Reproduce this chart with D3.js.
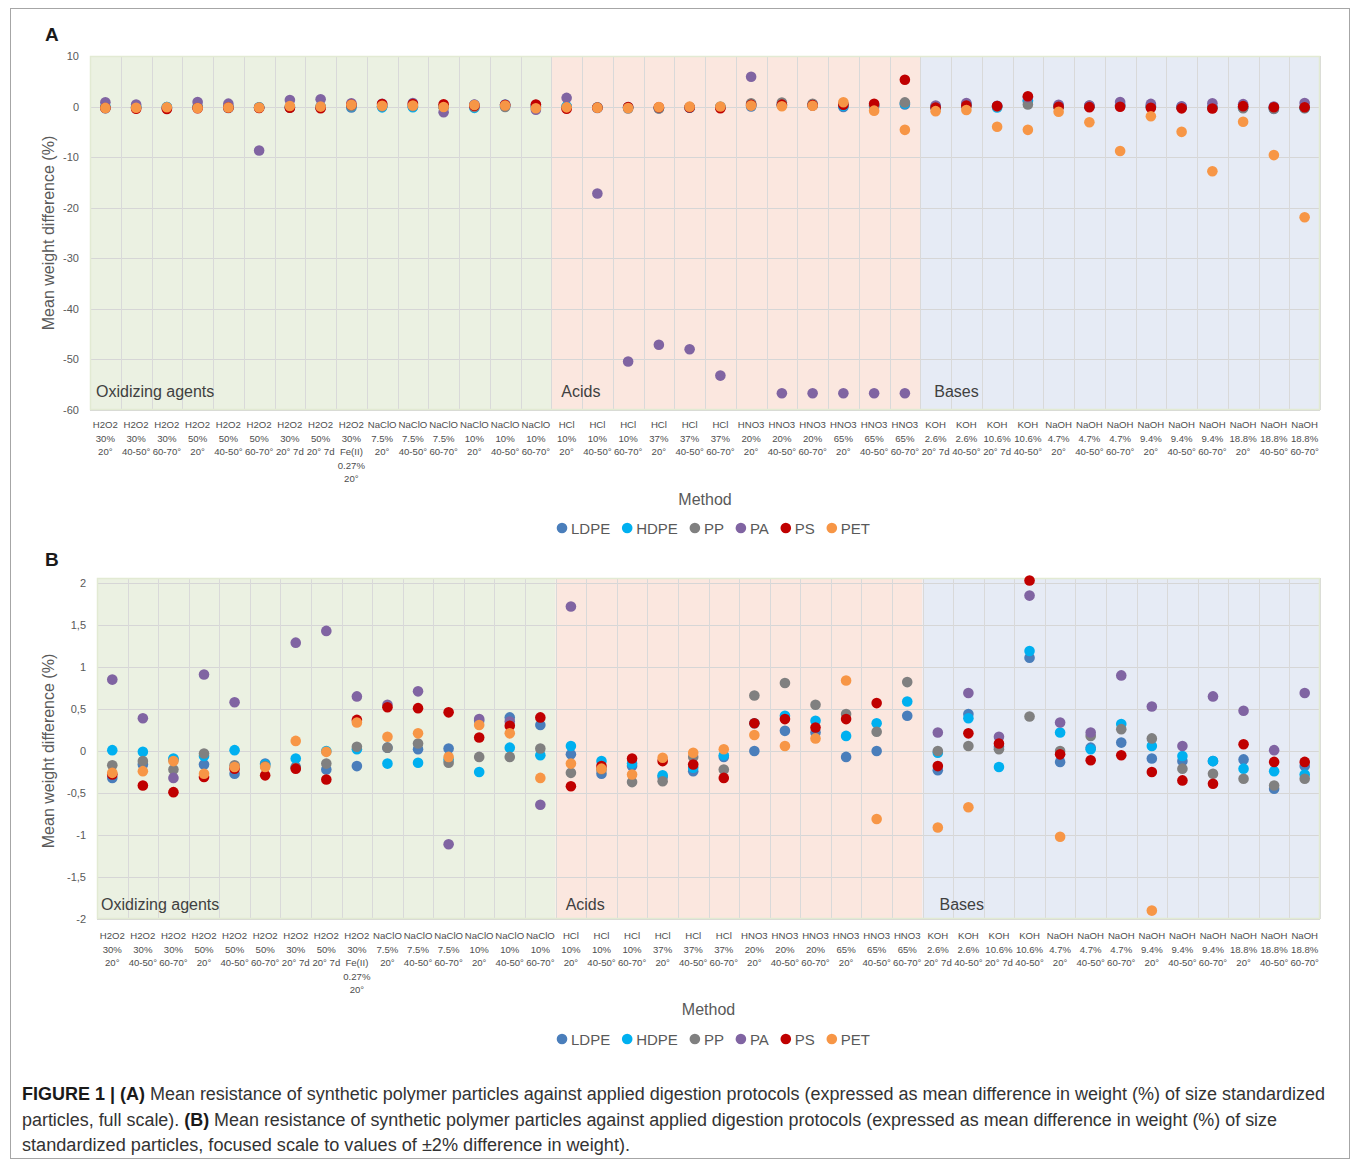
<!DOCTYPE html>
<html><head><meta charset="utf-8">
<script src="https://cdn.jsdelivr.net/npm/d3@7"></script>
<style>body{margin:0;background:#fff}svg{display:block}</style>
</head><body><svg id="c" width="1358" height="1161"></svg>
<script>
// ---------- data ----------
const categories = [
 ["H2O2","30%","20°"],["H2O2","30%","40-50°"],["H2O2","30%","60-70°"],
 ["H2O2","50%","20°"],["H2O2","50%","40-50°"],["H2O2","50%","60-70°"],
 ["H2O2","30%","20° 7d"],["H2O2","50%","20° 7d"],["H2O2","30%","Fe(II)","0.27%","20°"],
 ["NaClO","7.5%","20°"],["NaClO","7.5%","40-50°"],["NaClO","7.5%","60-70°"],
 ["NaClO","10%","20°"],["NaClO","10%","40-50°"],["NaClO","10%","60-70°"],
 ["HCl","10%","20°"],["HCl","10%","40-50°"],["HCl","10%","60-70°"],
 ["HCl","37%","20°"],["HCl","37%","40-50°"],["HCl","37%","60-70°"],
 ["HNO3","20%","20°"],["HNO3","20%","40-50°"],["HNO3","20%","60-70°"],
 ["HNO3","65%","20°"],["HNO3","65%","40-50°"],["HNO3","65%","60-70°"],
 ["KOH","2.6%","20° 7d"],["KOH","2.6%","40-50°"],["KOH","10.6%","20° 7d"],["KOH","10.6%","40-50°"],
 ["NaOH","4.7%","20°"],["NaOH","4.7%","40-50°"],["NaOH","4.7%","60-70°"],
 ["NaOH","9.4%","20°"],["NaOH","9.4%","40-50°"],["NaOH","9.4%","60-70°"],
 ["NaOH","18.8%","20°"],["NaOH","18.8%","40-50°"],["NaOH","18.8%","60-70°"]
];
const seriesNames = ["LDPE","HDPE","PP","PA","PS","PET"];
const seriesColors = ["#4a7ebb","#00b0f0","#808080","#8064a2","#c00000","#f79646"];
const LDPE = [-0.32,-0.16,-0.10,-0.16,-0.27,-0.15,-0.19,-0.22,-0.18,0.04,0.02,0.03,0.36,0.40,0.31,-0.04,-0.27,-0.18,-0.31,-0.24,-0.07,0.00,0.24,0.22,-0.07,0.00,0.42,-0.23,0.44,0.05,1.11,-0.13,0.04,0.10,-0.09,-0.12,-0.12,-0.10,-0.45,-0.18];
const HDPE = [0.01,-0.01,-0.09,-0.06,0.01,-0.16,-0.09,0.00,0.02,-0.15,-0.14,-0.10,-0.25,0.04,-0.05,0.06,-0.12,-0.15,-0.29,-0.20,-0.05,0.33,0.42,0.36,0.18,0.33,0.59,-0.02,0.39,-0.19,1.19,0.22,0.02,0.32,0.06,-0.06,-0.12,-0.21,-0.24,-0.28];
const PP   = [-0.17,-0.12,-0.22,-0.03,-0.17,-0.18,-0.20,-0.15,0.05,0.04,0.09,-0.14,-0.07,-0.07,0.03,-0.26,-0.22,-0.37,-0.36,-0.07,-0.22,0.66,0.81,0.55,0.44,0.23,0.82,0.00,0.06,0.02,0.41,0.00,0.18,0.26,0.15,-0.21,-0.27,-0.33,-0.41,-0.33];
const PA   = [0.85,0.39,-0.32,0.91,0.58,-8.7,1.29,1.43,0.65,0.55,0.71,-1.11,0.38,0.35,-0.64,1.72,-17.2,-50.4,-47.1,-48.0,-53.2,5.9,-56.7,-56.7,-56.7,-56.7,-56.7,0.22,0.69,0.17,1.85,0.34,0.22,0.90,0.53,0.06,0.65,0.48,0.01,0.69];
const PS   = [-0.28,-0.41,-0.49,-0.31,-0.21,-0.29,-0.21,-0.34,0.37,0.52,0.51,0.46,0.16,0.30,0.40,-0.42,-0.18,-0.09,-0.12,-0.16,-0.32,0.33,0.38,0.28,0.38,0.57,5.3,-0.18,0.21,0.09,2.03,-0.04,-0.11,-0.05,-0.25,-0.35,-0.39,0.08,-0.13,-0.13];
const PET  = [-0.26,-0.24,-0.12,-0.27,-0.19,-0.19,0.12,-0.01,0.34,0.17,0.21,-0.07,0.31,0.21,-0.32,-0.15,-0.21,-0.28,-0.08,-0.02,0.02,0.19,0.06,0.15,0.84,-0.81,-4.6,-0.91,-0.67,-4.0,-4.6,-1.02,-3.1,-8.8,-1.90,-5.0,-12.8,-3.0,-9.6,-21.9];
const seriesValues = [LDPE,HDPE,PP,PA,PS,PET];
const groups = [{name:"Oxidizing agents",from:0,to:15,fill:"#ebf1e2"},{name:"Acids",from:15,to:27,fill:"#fbe7df"},{name:"Bases",from:27,to:40,fill:"#e6ebf5"}];
const ticksA = [10,0,-10,-20,-30,-40,-50,-60];
const ticksB = [2,1.5,1,0.5,0,-0.5,-1,-1.5,-2];

const svg = d3.select("#c");
const FONT = "'Liberation Sans', Arial, sans-serif";

svg.append("rect").attr("x",10.5).attr("y",8.5).attr("width",1339).attr("height",1150)
  .attr("fill","none").attr("stroke","#a6a6a6").attr("stroke-width",1);

function panel(cfg){
  const g = svg.append("g");
  const x = d3.scaleBand().domain(d3.range(categories.length)).range([cfg.x0,cfg.x1]).padding(0);
  const y = d3.scaleLinear().domain(cfg.domain).range([cfg.yBot,cfg.yTop]);
  groups.forEach(gr=>{
    g.append("rect").attr("x",x(gr.from)).attr("y",cfg.yTop-cfg.pad)
      .attr("width",x.step()*(gr.to-gr.from)).attr("height",cfg.yBot-cfg.yTop+cfg.pad)
      .attr("fill",gr.fill);
  });
  g.append("g").selectAll("line").data(cfg.ticks).join("line")
    .attr("x1",cfg.x0).attr("x2",cfg.x1).attr("y1",d=>Math.round(y(d))+0.5).attr("y2",d=>Math.round(y(d))+0.5)
    .attr("stroke","#d6d6d6").attr("stroke-width",1);
  g.append("g").selectAll("line").data(d3.range(categories.length+1)).join("line")
    .attr("x1",d=>Math.round(cfg.x0+d*x.step())+0.5).attr("x2",d=>Math.round(cfg.x0+d*x.step())+0.5)
    .attr("y1",cfg.yTop-cfg.pad).attr("y2",cfg.yBot)
    .attr("stroke","#d9d9d9").attr("stroke-width",1);
  g.append("rect").attr("x",cfg.x0+0.5).attr("y",cfg.yTop-cfg.pad+0.5).attr("width",cfg.x1-cfg.x0-1)
    .attr("height",cfg.yBot-cfg.yTop+cfg.pad-1).attr("fill","none").attr("stroke","#e2ead3").attr("stroke-width",1.5);
  const ya = d3.axisLeft(y).tickValues(cfg.ticks).tickSize(0).tickPadding(0).tickFormat(cfg.fmt);
  const yg = g.append("g").attr("transform",`translate(${cfg.tickX},0)`).call(ya);
  yg.select(".domain").remove();
  yg.selectAll("text").attr("font-family",FONT).attr("font-size",11).attr("fill","#595959");
  g.append("text").attr("transform",`translate(54,${(cfg.yTop+cfg.yBot)/2}) rotate(-90)`)
    .attr("text-anchor","middle").attr("font-family",FONT).attr("font-size",16).attr("fill","#595959")
    .text("Mean weight difference (%)");
  groups.forEach((gr,k)=>{
    g.append("text").attr("x",x(gr.from)+cfg.regionDx[k]).attr("y",cfg.regionY).attr("font-family",FONT)
      .attr("font-size",16).attr("fill","#404040").text(gr.name);
  });
  const cl = g.append("g");
  categories.forEach((c,i)=>{
    const t = cl.append("text").attr("x",x(i)+x.step()/2).attr("y",cfg.labelY)
      .attr("text-anchor","middle").attr("font-family",FONT).attr("font-size",9.6).attr("fill","#4d4d4d");
    c.forEach((line,j)=>t.append("tspan").attr("x",x(i)+x.step()/2).attr("dy",j===0?0:13.5).text(line));
  });
  seriesValues.forEach((vals,s)=>{
    g.append("g").selectAll("circle")
      .data(vals.map((v,i)=>({v,i})).filter(d=>d.v>=cfg.domain[0]-0.1 && d.v<=cfg.domain[1]+0.1))
      .join("circle").attr("cx",d=>x(d.i)+x.step()/2).attr("cy",d=>y(d.v)).attr("r",5.3)
      .attr("fill",seriesColors[s]);
  });
  g.append("text").attr("x",(cfg.x0+cfg.x1)/2).attr("y",cfg.methodY).attr("text-anchor","middle")
    .attr("font-family",FONT).attr("font-size",16).attr("fill","#595959").text("Method");
  const lg = g.append("g");
  let lx = cfg.legendX;
  seriesNames.forEach((n,s)=>{
    lg.append("circle").attr("cx",lx).attr("cy",cfg.legendY).attr("r",5.3).attr("fill",seriesColors[s]);
    const t = lg.append("text").attr("x",lx+9).attr("y",cfg.legendY+5.5).attr("font-family",FONT)
      .attr("font-size",15).attr("fill","#595959").text(n);
    lx += 9 + t.node().getComputedTextLength() + 17;
  });
  svg.append("text").attr("x",45).attr("y",cfg.letterY).attr("font-family",FONT).attr("font-weight","bold")
    .attr("font-size",19).attr("fill","#1a1a1a").text(cfg.letter);
}

panel({letter:"A",letterY:41,x0:90,x1:1320,yTop:56,yBot:410,pad:0,domain:[-60,10],ticks:ticksA,fmt:d=>d,
  tickX:79,regionY:397,regionDx:[6,10,14],labelY:428,methodY:505,legendY:528,legendX:562});
panel({letter:"B",letterY:566,x0:97,x1:1320,yTop:583,yBot:919,pad:5,domain:[-2,2],ticks:ticksB,
  fmt:d=>String(d).replace(".",","),tickX:86,regionY:910,regionDx:[4,10,17],labelY:939,methodY:1015,legendY:1039,legendX:562});

const cap = svg.append("g").attr("font-family","'Liberation Sans Narrow','Arial Narrow','Liberation Sans',sans-serif")
  .attr("font-size",18).attr("fill","#333");
const l1 = cap.append("text").attr("x",22).attr("y",1100).attr("textLength",1303).attr("lengthAdjust","spacingAndGlyphs");
l1.append("tspan").attr("font-weight","bold").attr("fill","#1a1a1a").text("FIGURE 1 | (A)");
l1.append("tspan").text(" Mean resistance of synthetic polymer particles against applied digestion protocols (expressed as mean difference in weight (%) of size standardized");
const l2 = cap.append("text").attr("x",22).attr("y",1126).attr("textLength",1255).attr("lengthAdjust","spacingAndGlyphs");
l2.append("tspan").text("particles, full scale). ");
l2.append("tspan").attr("font-weight","bold").attr("fill","#1a1a1a").text("(B)");
l2.append("tspan").text(" Mean resistance of synthetic polymer particles against applied digestion protocols (expressed as mean difference in weight (%) of size");
cap.append("text").attr("x",22).attr("y",1151).attr("textLength",608).attr("lengthAdjust","spacingAndGlyphs")
  .text("standardized particles, focused scale to values of ±2% difference in weight).");
</script></body></html>
